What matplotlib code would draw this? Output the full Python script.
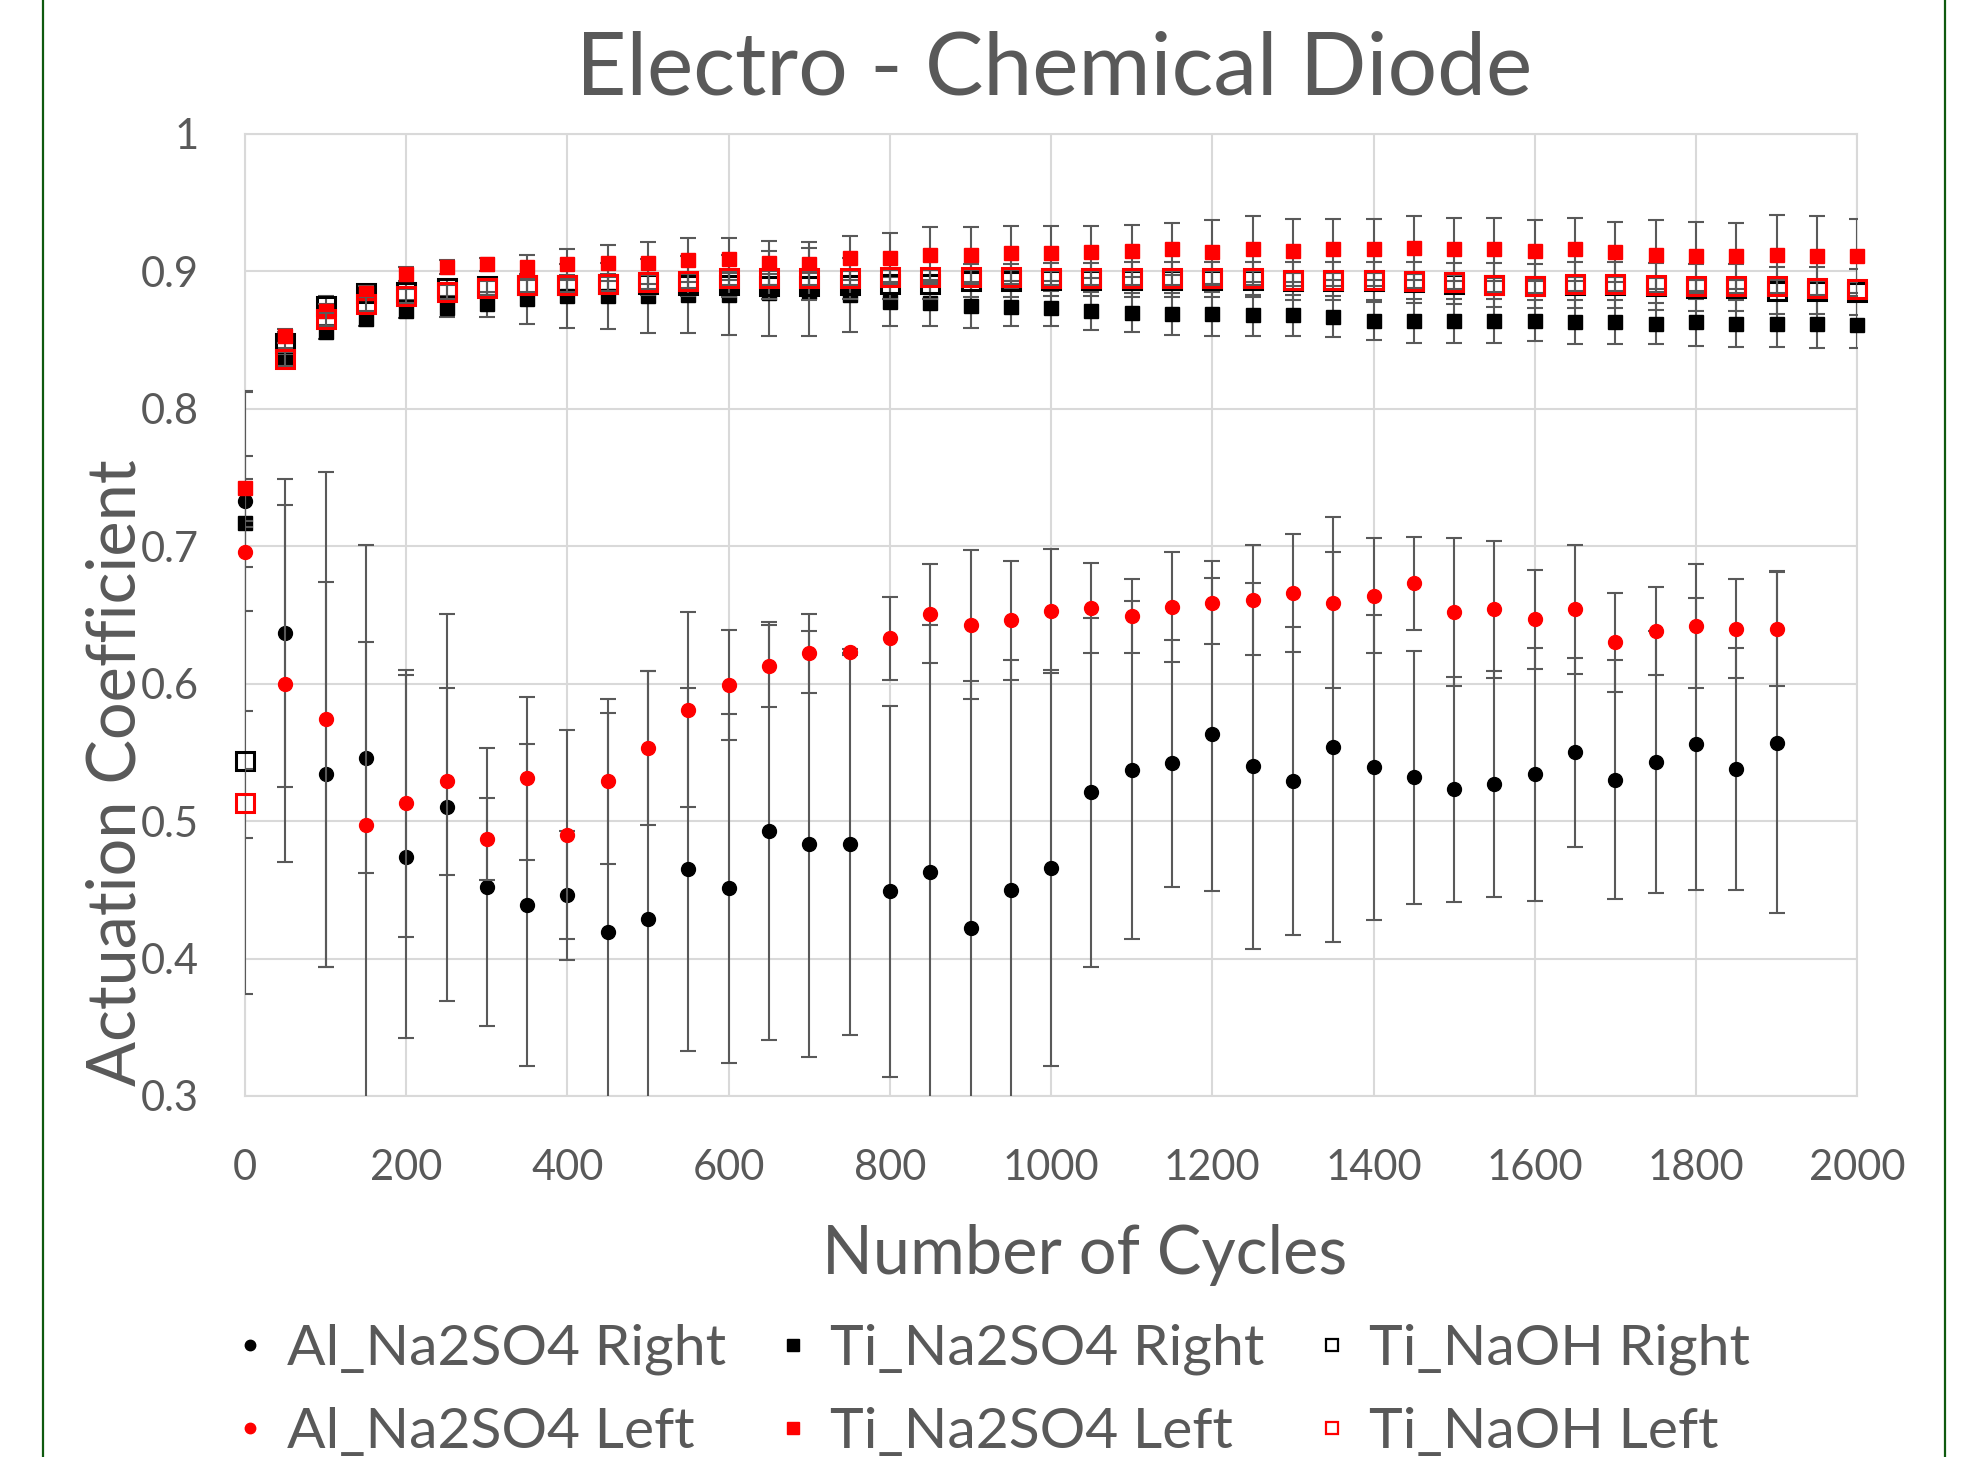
import matplotlib
matplotlib.use("Agg")
import matplotlib.pyplot as plt
from matplotlib.lines import Line2D

plt.rcParams['font.family'] = ['Lato', 'DejaVu Sans']

# ---- data ----
cycles_ti = [0, 50, 100, 150, 200, 250, 300, 350, 400, 450, 500, 550, 600, 650, 700,
             750, 800, 850, 900, 950, 1000, 1050, 1100, 1150, 1200, 1250, 1300, 1350,
             1400, 1450, 1500, 1550, 1600, 1650, 1700, 1750, 1800, 1850, 1900, 1950, 2000]
cycles_al = cycles_ti[:39]

al_right = [0.733, 0.637, 0.534, 0.546, 0.474, 0.510, 0.452, 0.439, 0.446, 0.419,
            0.429, 0.465, 0.451, 0.493, 0.483, 0.483, 0.449, 0.463, 0.422, 0.450,
            0.466, 0.521, 0.537, 0.542, 0.563, 0.540, 0.529, 0.554, 0.539, 0.532,
            0.523, 0.527, 0.534, 0.550, 0.530, 0.543, 0.556, 0.538, 0.557]
al_right_err = [0.080, 0.112, 0.140, 0.084, 0.132, 0.141, 0.101, 0.117, 0.047, 0.160,
                0.180, 0.132, 0.127, 0.152, 0.155, 0.139, 0.135, 0.180, 0.180, 0.167,
                0.144, 0.127, 0.123, 0.090, 0.114, 0.133, 0.112, 0.142, 0.111, 0.092,
                0.082, 0.082, 0.092, 0.069, 0.087, 0.095, 0.106, 0.088, 0.124]

al_left = [0.696, 0.600, 0.574, 0.497, 0.513, 0.529, 0.487, 0.531, 0.490, 0.529,
           0.553, 0.581, 0.599, 0.613, 0.622, 0.623, 0.633, 0.651, 0.643, 0.646,
           0.653, 0.655, 0.649, 0.656, 0.659, 0.661, 0.666, 0.659, 0.664, 0.673,
           0.652, 0.654, 0.647, 0.654, 0.630, 0.638, 0.642, 0.640, 0.640]
al_left_err = [0.116, 0.130, 0.180, 0.204, 0.097, 0.068, 0.030, 0.059, 0.076, 0.060,
               0.056, 0.071, 0.040, 0.030, 0.029, 0.002, 0.030, 0.036, 0.054, 0.043,
               0.045, 0.033, 0.027, 0.040, 0.030, 0.040, 0.043, 0.062, 0.042, 0.034,
               0.054, 0.050, 0.036, 0.047, 0.036, 0.032, 0.045, 0.036, 0.042]

ti_right = [0.717, 0.838, 0.856, 0.865, 0.871, 0.873, 0.876, 0.880, 0.882, 0.882,
            0.882, 0.883, 0.883, 0.884, 0.885, 0.883, 0.878, 0.877, 0.875, 0.874,
            0.873, 0.871, 0.870, 0.869, 0.869, 0.868, 0.868, 0.867, 0.864, 0.864,
            0.864, 0.864, 0.864, 0.863, 0.863, 0.862, 0.863, 0.862, 0.862, 0.862, 0.861]
ti_right_err = [0.032, 0.006, 0.005, 0.005, 0.005, 0.006, 0.009, 0.018, 0.023, 0.024,
                0.027, 0.028, 0.029, 0.031, 0.032, 0.027, 0.018, 0.017, 0.016, 0.014,
                0.013, 0.014, 0.014, 0.015, 0.016, 0.015, 0.015, 0.015, 0.014, 0.016,
                0.016, 0.016, 0.015, 0.016, 0.016, 0.015, 0.017, 0.017, 0.017, 0.018, 0.017]

ti_left = [0.742, 0.853, 0.871, 0.884, 0.898, 0.903, 0.905, 0.903, 0.905, 0.906,
           0.906, 0.908, 0.909, 0.906, 0.905, 0.910, 0.910, 0.912, 0.912, 0.913,
           0.913, 0.914, 0.915, 0.916, 0.914, 0.916, 0.915, 0.916, 0.916, 0.917,
           0.916, 0.916, 0.915, 0.916, 0.914, 0.912, 0.911, 0.911, 0.912, 0.911, 0.911]
ti_left_err = [0.024, 0.005, 0.005, 0.005, 0.005, 0.005, 0.005, 0.009, 0.011, 0.013,
               0.015, 0.016, 0.015, 0.016, 0.016, 0.016, 0.018, 0.020, 0.020, 0.020,
               0.020, 0.019, 0.019, 0.019, 0.023, 0.024, 0.023, 0.022, 0.022, 0.023,
               0.023, 0.023, 0.022, 0.023, 0.022, 0.025, 0.025, 0.024, 0.029, 0.029, 0.027]

naoh_right = [0.544, 0.848, 0.875, 0.884, 0.885, 0.888, 0.889, 0.890, 0.890, 0.891,
              0.891, 0.890, 0.890, 0.889, 0.889, 0.890, 0.891, 0.891, 0.893, 0.893,
              0.894, 0.894, 0.894, 0.894, 0.894, 0.894, 0.893, 0.893, 0.893, 0.892,
              0.891, 0.890, 0.889, 0.890, 0.890, 0.889, 0.888, 0.888, 0.886, 0.886, 0.885]
naoh_right_err = [0.170, 0.008, 0.007, 0.006, 0.006, 0.006, 0.006, 0.007, 0.007, 0.007,
                  0.008, 0.008, 0.009, 0.009, 0.010, 0.010, 0.011, 0.011, 0.012, 0.012,
                  0.012, 0.012, 0.013, 0.013, 0.013, 0.013, 0.014, 0.014, 0.014, 0.015,
                  0.015, 0.016, 0.016, 0.017, 0.017, 0.017, 0.017, 0.017, 0.017, 0.017, 0.017]

naoh_left = [0.513, 0.836, 0.865, 0.876, 0.882, 0.885, 0.888, 0.890, 0.890, 0.891,
             0.892, 0.893, 0.895, 0.895, 0.895, 0.895, 0.896, 0.896, 0.896, 0.896,
             0.895, 0.895, 0.895, 0.895, 0.895, 0.895, 0.894, 0.894, 0.894, 0.893,
             0.892, 0.890, 0.889, 0.891, 0.891, 0.890, 0.889, 0.889, 0.889, 0.888, 0.887]
naoh_left_err = [0.025, 0.005, 0.005, 0.005, 0.005, 0.005, 0.005, 0.005, 0.005, 0.005,
                 0.005, 0.005, 0.005, 0.005, 0.005, 0.005, 0.005, 0.005, 0.005, 0.005,
                 0.005, 0.005, 0.005, 0.005, 0.005, 0.005, 0.005, 0.005, 0.005, 0.005,
                 0.005, 0.005, 0.005, 0.005, 0.005, 0.005, 0.005, 0.005, 0.005, 0.005, 0.005]

labels = ["Al_Na2SO4 Right", "Ti_Na2SO4 Right", "Ti_NaOH Right",
          "Al_Na2SO4 Left", "Ti_Na2SO4 Left", "Ti_NaOH Left"]

TXT = "#595959"
GRID = "#d9d9d9"
ERR = "#595959"
RED = "#ff0000"

fig = plt.figure(figsize=(19.78, 14.57), dpi=100)
ax = fig.add_axes([0.1239, 0.2478, 0.8150, 0.6603])

# series drawn in Excel order: Right series first, then Left
series = [
    (cycles_al, al_right, al_right_err, dict(marker="o", ms=10, mfc="black", mec="black")),
    (cycles_ti, ti_right, ti_right_err, dict(marker="s", ms=10, mfc="black", mec="black")),
    (cycles_ti, naoh_right, naoh_right_err, dict(marker="s", ms=13, mfc="none", mec="black", mew=2.2)),
    (cycles_al, al_left, al_left_err, dict(marker="o", ms=10, mfc=RED, mec=RED)),
    (cycles_ti, ti_left, ti_left_err, dict(marker="s", ms=10, mfc=RED, mec=RED)),
    (cycles_ti, naoh_left, naoh_left_err, dict(marker="s", ms=13, mfc="none", mec=RED, mew=2.2)),
]
for i, (x, y, e, st) in enumerate(series):
    # error bars are clipped at the plot area, markers are not
    ax.errorbar(x, y, yerr=e, fmt="none", ecolor=ERR, elinewidth=1.5,
                capsize=6, capthick=1.5, zorder=3 + 2 * i)
    ax.plot(x, y, ls="none", clip_on=False, zorder=4 + 2 * i, **st)

ax.set_xlim(0, 2000)
ax.set_ylim(0.3, 1.0)
ax.set_xticks(range(0, 2001, 200))
ax.set_yticks([0.3, 0.4, 0.5, 0.6, 0.7, 0.8, 0.9, 1.0])
ax.set_yticklabels(["0.3", "0.4", "0.5", "0.6", "0.7", "0.8", "0.9", "1"])
ax.tick_params(axis="both", length=0, labelsize=30, labelcolor=TXT)
ax.tick_params(axis="y", pad=33)
ax.tick_params(axis="x", pad=38)
ax.grid(True, color=GRID, lw=1.5, zorder=0)
ax.set_axisbelow(True)
for s in ax.spines.values():
    s.set_color(GRID)
    s.set_linewidth(1.5)

fig.text(0.533, 0.935, "Electro - Chemical Diode", ha="center", va="baseline",
         fontsize=63, color=TXT)
fig.text(0.5485, 0.1256, "Number of Cycles", ha="center", va="baseline",
         fontsize=48, color=TXT)
fig.text(0.059, 0.47, "Actuation Coefficient", rotation=90, ha="center", va="center",
         fontsize=48, color=TXT)

handles = [
    Line2D([], [], ls="none", marker="o", ms=7.5, mfc="black", mec="black"),
    Line2D([], [], ls="none", marker="o", ms=7.5, mfc=RED, mec=RED),
    Line2D([], [], ls="none", marker="s", ms=8, mfc="black", mec="black"),
    Line2D([], [], ls="none", marker="s", ms=8, mfc=RED, mec=RED),
    Line2D([], [], ls="none", marker="s", ms=9, mfc="none", mec="black", mew=1.6),
    Line2D([], [], ls="none", marker="s", ms=9, mfc="none", mec=RED, mew=1.6),
]
leg_labels = [labels[0], labels[3], labels[1], labels[4], labels[2], labels[5]]
leg = fig.legend(handles, leg_labels, loc="upper left", bbox_to_anchor=(0.1178, 0.0915),
                 ncol=3, frameon=False, fontsize=41, handlelength=0.6,
                 handletextpad=0.35, columnspacing=0.88, labelspacing=0.56,
                 borderaxespad=0, borderpad=0)
for t in leg.get_texts():
    t.set_color(TXT)

# outer chart frame edges (dark green), partly visible in the crop
for xf in (43 / 1978, 1945 / 1978):
    fig.add_artist(Line2D([xf, xf], [0, 1], transform=fig.transFigure,
                          color="#0f5a0f", lw=1.6))

fig.savefig("out.png", dpi=100)
